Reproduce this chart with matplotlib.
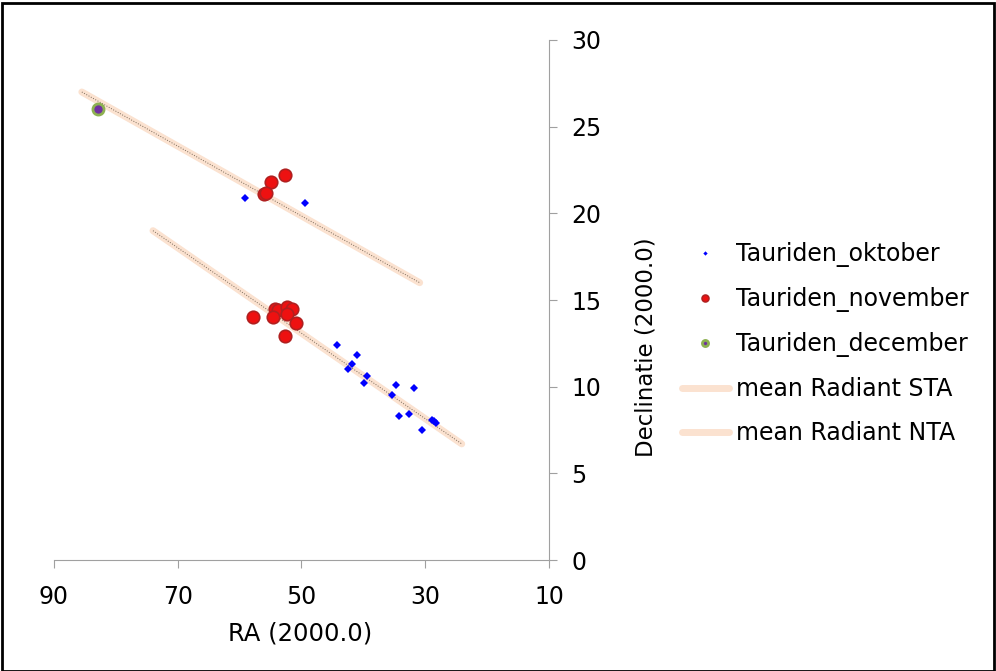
import matplotlib.pyplot as plt
from matplotlib.patches import Rectangle

# --- data ---
okt_ra = [59.1, 49.4, 44.3, 41.0, 41.9, 42.5, 39.4, 39.9, 34.7, 31.8, 35.4,
          32.6, 34.3, 28.9, 28.6, 28.3, 30.5]
okt_dec = [20.9, 20.6, 12.4, 11.8, 11.3, 11.0, 10.6, 10.2, 10.1, 9.9, 9.5,
           8.4, 8.3, 8.1, 8.0, 7.9, 7.5]

nov_ra = [52.7, 54.9, 56.0, 55.7, 57.8, 54.3, 53.8, 52.4, 51.6, 52.4, 54.6,
          50.9, 52.7]
nov_dec = [22.2, 21.8, 21.1, 21.2, 14.0, 14.5, 14.4, 14.6, 14.5, 14.2, 14.0,
           13.7, 12.9]

dec_ra = [82.9]
dec_dec = [26.0]

sta_ra = [74.0, 24.1]
sta_dec = [19.0, 6.7]
nta_ra = [85.5, 30.9]
nta_dec = [27.0, 16.0]

fig = plt.figure(figsize=(9.96, 6.71), dpi=100)
ax = fig.add_axes([0.0542, 0.1654, 0.4970, 0.7750])

peach = '#fbe2d0'
ax.plot(okt_ra, okt_dec, 'D', color='#0000ff', markersize=4,
        markeredgewidth=0, label='Tauriden_oktober', zorder=4)
ax.plot(nov_ra, nov_dec, 'o', color='#ee1111', markeredgecolor='#b02020',
        markersize=9, markeredgewidth=1.2, label='Tauriden_november', zorder=4)
ax.plot(dec_ra, dec_dec, 'o', color='#7030a0', markeredgecolor='#8db050',
        markersize=8, markeredgewidth=2, label='Tauriden_december', zorder=4)
ax.plot(sta_ra, sta_dec, color=peach, linewidth=5, solid_capstyle='round',
        label='mean Radiant STA', zorder=2)
ax.plot(nta_ra, nta_dec, color=peach, linewidth=5, solid_capstyle='round',
        label='mean Radiant NTA', zorder=2)
ax.plot(sta_ra, sta_dec, color='#7a6a5a', linewidth=0.7, linestyle=':', zorder=3)
ax.plot(nta_ra, nta_dec, color='#7a6a5a', linewidth=0.7, linestyle=':', zorder=3)

ax.set_xlim(90, 10)
ax.set_ylim(0, 30)
ax.set_xticks([90, 70, 50, 30, 10])
ax.set_yticks([0, 5, 10, 15, 20, 25, 30])

for s in ['left', 'top']:
    ax.spines[s].set_visible(False)
for s in ['right', 'bottom']:
    ax.spines[s].set_color('#a0a0a0')
ax.yaxis.tick_right()
ax.yaxis.set_label_position('right')
ax.tick_params(axis='both', colors='#a0a0a0', labelcolor='black',
               labelsize=17, length=6, direction='out')
ax.tick_params(axis='y', pad=10)
ax.tick_params(axis='x', pad=12)
ax.set_xlabel('RA (2000.0)', fontsize=17.5)
ax.set_ylabel('Declinatie (2000.0)', fontsize=16.5)
ax.xaxis.set_label_coords(0.497, -0.118)
ax.yaxis.set_label_coords(1.172, 0.41)

fig.legend(loc='center left', bbox_to_anchor=(0.663, 0.488), frameon=False,
           fontsize=17, markerscale=0.55, handlelength=2.0, labelspacing=0.85,
           handletextpad=0.3)

fig.patches.append(Rectangle((0.002, 0.0), 0.996, 0.996, transform=fig.transFigure,
                             fill=False, edgecolor='black', linewidth=2))

fig.savefig('out.png', dpi=100)
